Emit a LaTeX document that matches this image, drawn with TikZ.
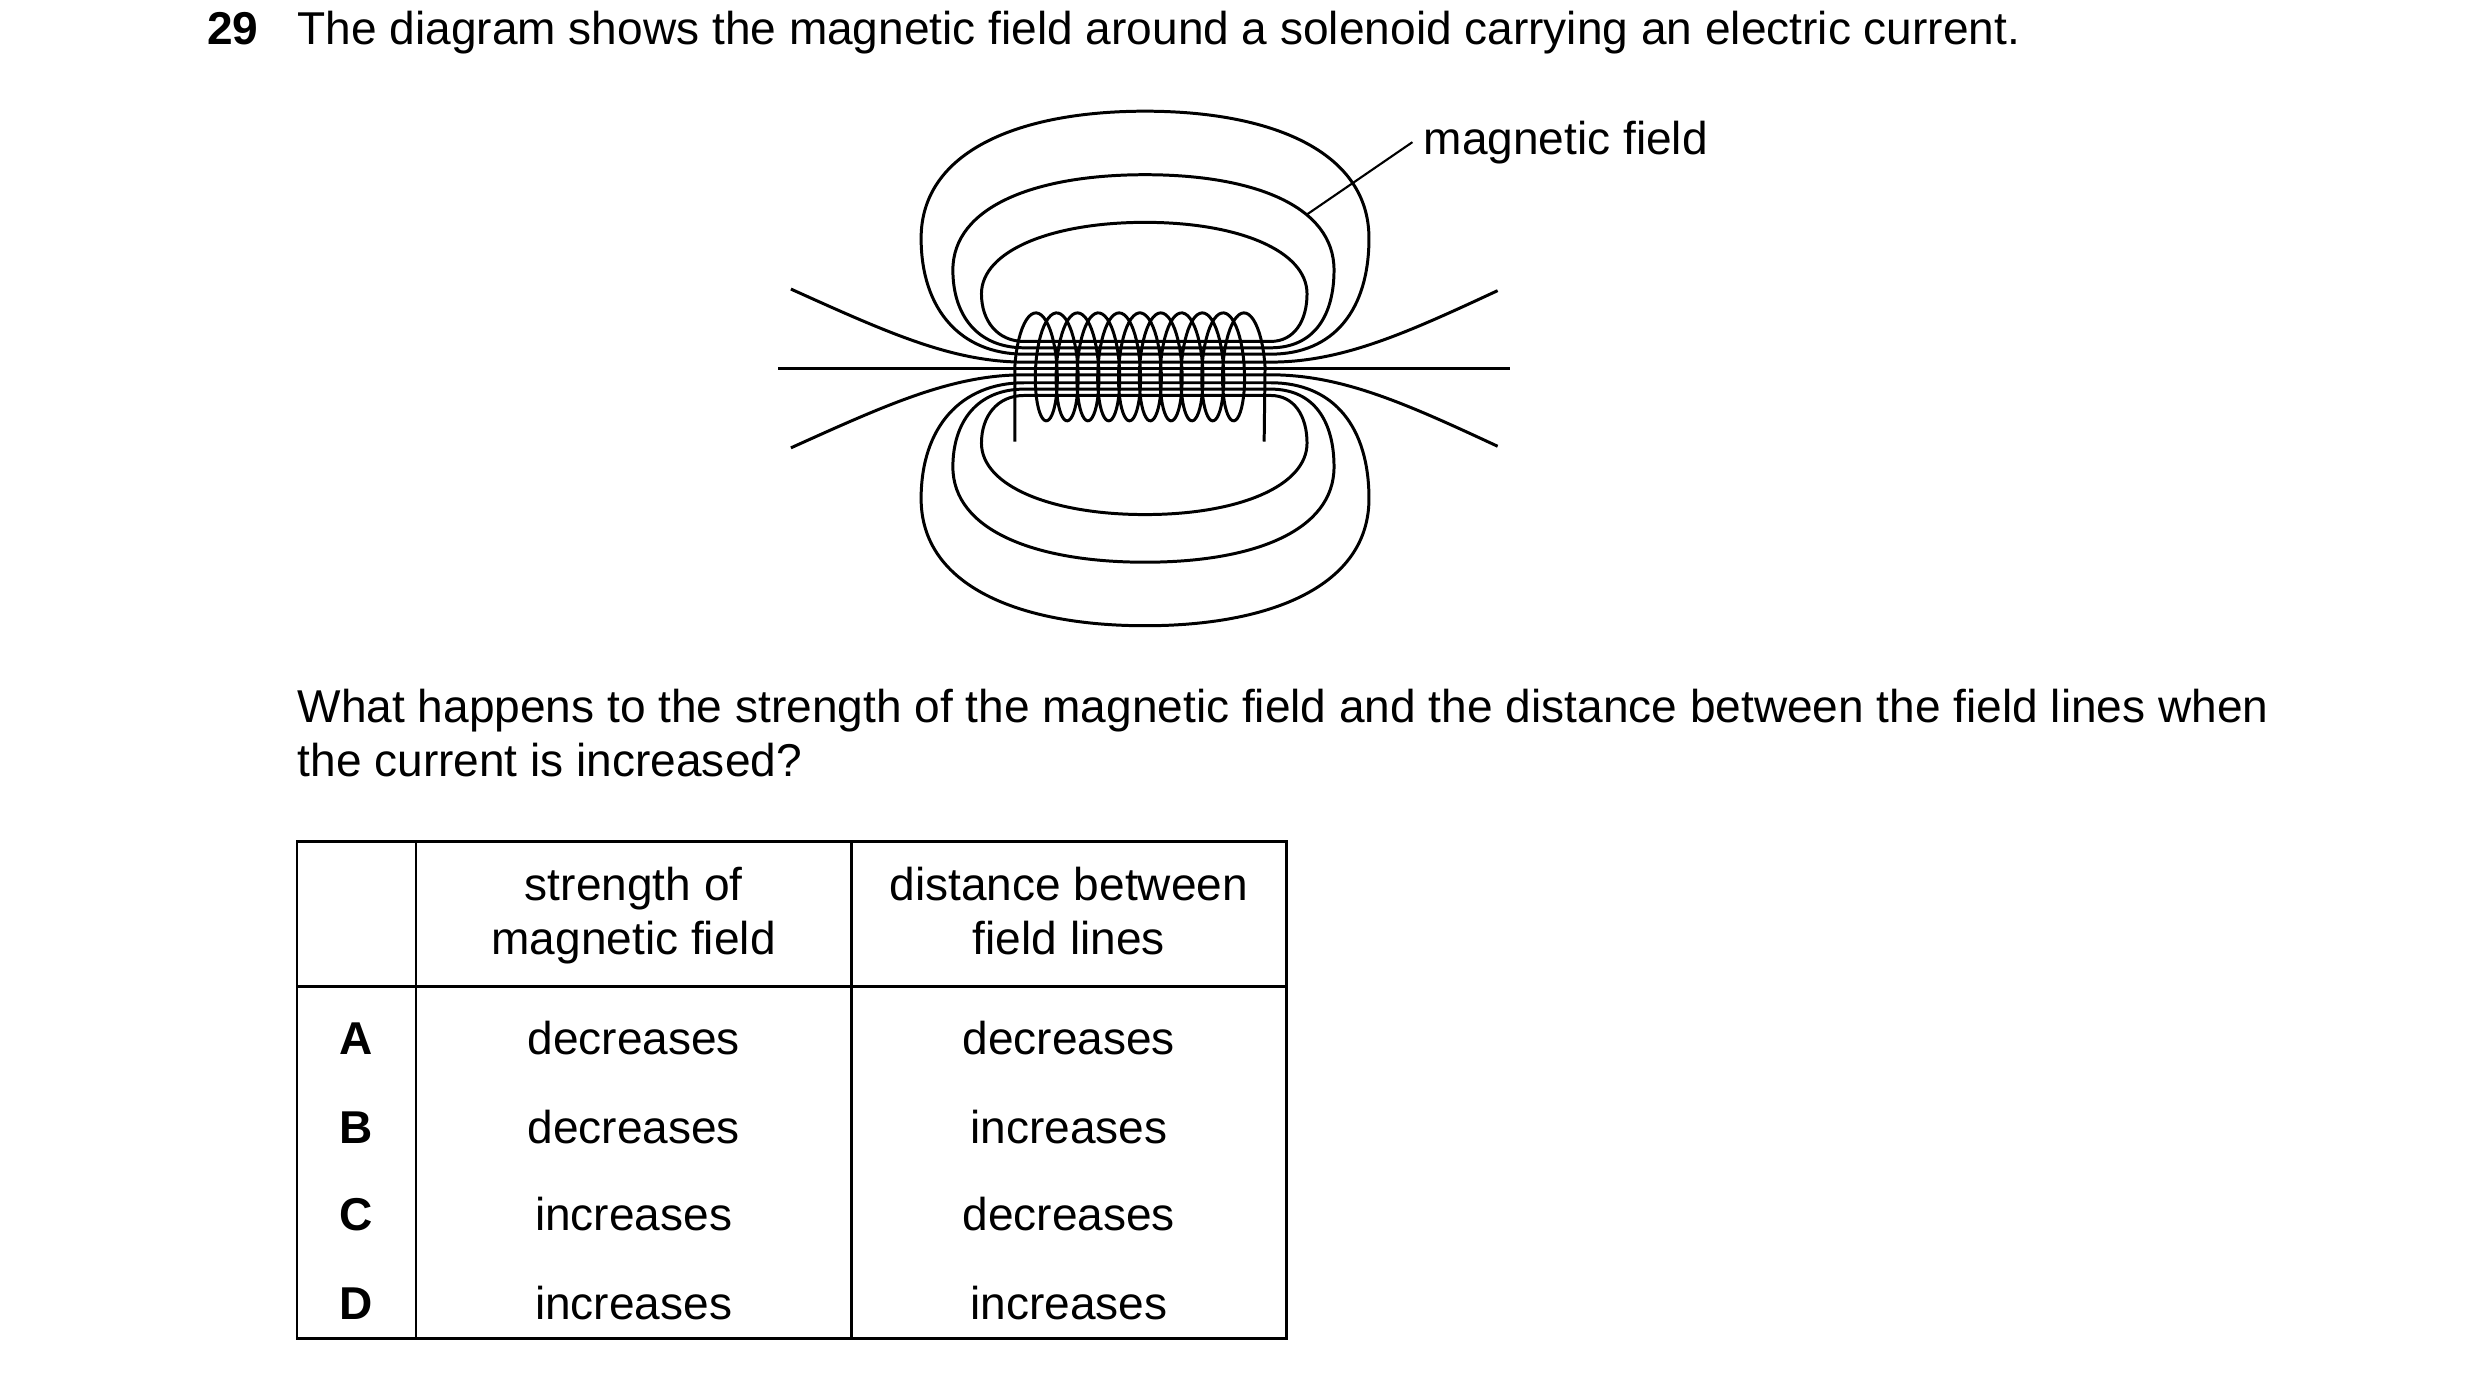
\documentclass[tikz,border=0pt]{standalone}
\usepackage{fontspec}
\setmainfont{Liberation Sans}
\begin{document}
\begin{tikzpicture}[x=0.1588mm,y=-0.1588mm,
  fl/.style={line width=0.85pt, line join=round},
  tl/.style={line width=0.75pt},
  txt/.style={font=\fontsize{13.1pt}{15.5pt}\selectfont, inner sep=0pt},
  lt/.style={txt, anchor=base west},
  ct/.style={txt, anchor=base},
  bt/.style={txt, anchor=base, font=\fontsize{13.1pt}{15.5pt}\selectfont\bfseries}]
\useasboundingbox (0,0) rectangle (1561.6,865);
% question
\node[lt, font=\fontsize{13.1pt}{15.5pt}\selectfont\bfseries] (qn) at (130,28) {29};
\node[lt] (q1) at (187,28) {The diagram shows the magnetic field around a solenoid carrying an electric current.};
% field
\coordinate (axl) at (490,232);
\coordinate (axr) at (951,232);
\draw[fl] (axl) -- (axr);
\foreach \s in {0,1}{
\begin{scope}[shift={(0,464*\s)}, yscale={1-2*\s}]
  \coordinate (fl1) at (498,182);
  \coordinate (fr1) at (943,183);
  \draw[fl] (fl1) .. controls (560,210) and (600,228) .. (645,228) -- (800,228)
        .. controls (845,228) and (885,210) .. (fr1);
  \draw[fl] (645,223) -- (800,223) .. controls (840,223) and (862,195) .. (862,150)
     .. controls (862,95) and (800,70) .. (721,70) .. controls (642,70) and (580,95) .. (580,150)
     .. controls (580,195) and (605,223) .. (645,223);
  \draw[fl] (645,219) -- (800,219) .. controls (828,219) and (840,198) .. (840,170)
     .. controls (840,130) and (790,110) .. (721,110) .. controls (652,110) and (600,130) .. (600,170)
     .. controls (600,198) and (615,219) .. (645,219);
  \draw[fl] (645,215) -- (800,215) .. controls (815,215) and (823,202) .. (823,185)
     .. controls (823,158) and (780,140) .. (721,140) .. controls (662,140) and (618,158) .. (618,185)
     .. controls (618,202) and (628,215) .. (645,215);
\end{scope}}
% coil
\coordinate (ll) at (639,278);
\coordinate (rl) at (796,278);
\draw[fl] (ll) -- (639,231)
  plot[domain=0:3780, samples=500, variable=\t] ({649+0.0363889*\t-10*cos(\t)},{231-34*sin(\t)})
  -- (rl);
% label
\node[lt] (mf) at (896,97) {magnetic field};
\coordinate (lp) at (823,135);
\draw[line width=0.6pt] (lp) -- ([xshift=-3]mf.west);
% second question
\node[lt] (q2) at (187,455) {What happens to the strength of the magnetic field and the distance between the field lines when};
\node[lt] (q3) at (187,489) {the current is increased?};
% table
\draw[tl] (187,530) rectangle (810,843);
\draw[tl] (262,530) -- (262,843);
\draw[tl] (536,530) -- (536,843);
\draw[tl] (187,621) -- (810,621);
\node[ct] (h1a) at (399,567) {strength of};
\node[ct] (h1b) at (399,601) {magnetic field};
\node[ct] (h2a) at (673,567) {distance between};
\node[ct] (h2b) at (673,601) {field lines};
\node[bt] (ra) at (224,664) {A};
\node[bt] (rb) at (224,720) {B};
\node[bt] (rc) at (224,775) {C};
\node[bt] (rd) at (224,831) {D};
\node[ct] (a1) at (399,664) {decreases};
\node[ct] (a2) at (673,664) {decreases};
\node[ct] (b1) at (399,720) {decreases};
\node[ct] (b2) at (673,720) {increases};
\node[ct] (c1) at (399,775) {increases};
\node[ct] (c2) at (673,775) {decreases};
\node[ct] (d1) at (399,831) {increases};
\node[ct] (d2) at (673,831) {increases};
\end{tikzpicture}
\end{document}
